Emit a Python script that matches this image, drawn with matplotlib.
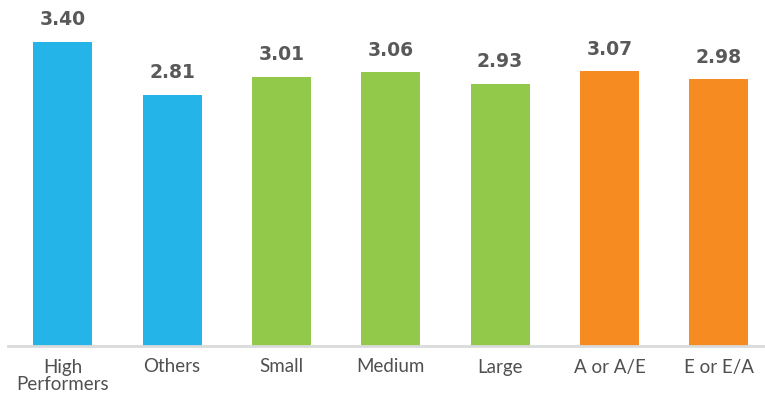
import matplotlib
matplotlib.use('Agg')
import matplotlib.pyplot as plt

categories = ['High\nPerformers', 'Others', 'Small', 'Medium', 'Large', 'A or A/E', 'E or E/A']
values = [3.40, 2.81, 3.01, 3.06, 2.93, 3.07, 2.98]
colors = ['#25B4E8', '#25B4E8', '#92C94A', '#92C94A', '#92C94A', '#F68B22', '#F68B22']

plt.rcParams['font.family'] = ['Lato', 'DejaVu Sans']

fig = plt.figure(figsize=(7.65, 4.01), dpi=100)
ax = fig.add_axes([8 / 765, 55 / 401, 760 / 765, 340 / 401])

x = list(range(len(categories)))
ax.bar(x, values, width=0.54, color=colors)

# value labels above the bars
for xi, v in zip(x, values):
    ax.annotate(f'{v:.2f}', (xi, v), xytext=(0, 9), textcoords='offset points',
                ha='center', va='bottom', fontsize=13.5, fontweight='bold',
                color='#595959', family='DejaVu Sans')

ax.set_xlim(-0.5, 6.45)
ax.set_ylim(0, 3.8)
ax.set_xticks(x)
ax.set_xticklabels(categories, fontsize=13.5, color='#505050', linespacing=1.0)
ax.tick_params(axis='x', length=0, pad=9)
ax.set_yticks([])
for side in ['top', 'right', 'left']:
    ax.spines[side].set_visible(False)
ax.spines['bottom'].set_color('#D9DADB')
ax.spines['bottom'].set_linewidth(2)

fig.savefig('out.png', dpi=100)
